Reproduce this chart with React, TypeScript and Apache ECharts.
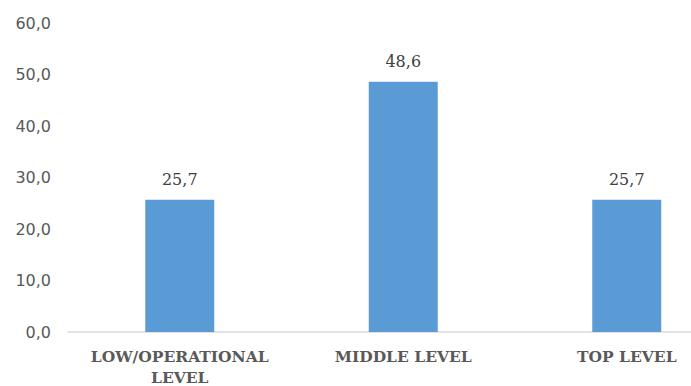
import React, { useEffect, useRef } from "react";
import * as echarts from "echarts";

const categories = ["LOW/OPERATIONAL\nLEVEL", "MIDDLE LEVEL", "TOP LEVEL"];
const values = [25.7, 48.6, 25.7];
const yMin = 0;
const yMax = 60;
const yInterval = 10;

const fmt = (v: number) => v.toFixed(1).replace(".", ",");

export default function App() {
  const ref = useRef<HTMLDivElement>(null);
  useEffect(() => {
    if (!ref.current) return;
    const chart = echarts.init(ref.current, undefined, { renderer: "svg" });
    chart.setOption({
      animation: false,
      backgroundColor: "#ffffff",
      grid: {
        left: 68,
        top: 23,
        width: 670.5,
        height: 309,
        containLabel: false,
        outerBoundsMode: "none",
      },
      xAxis: {
        type: "category",
        data: categories,
        axisLine: { lineStyle: { color: "#d9d9d9", width: 1.5 } },
        axisTick: { show: false },
        axisLabel: {
          interval: 0,
          hideOverlap: false,
          color: "#595959",
          fontFamily: "DejaVu Serif",
          fontWeight: "bold",
          fontSize: 15.5,
          lineHeight: 21,
          margin: 14,
        },
      },
      yAxis: {
        type: "value",
        min: yMin,
        max: yMax,
        interval: yInterval,
        splitLine: { show: false },
        axisLine: { show: false },
        axisTick: { show: false },
        axisLabel: {
          color: "#595959",
          fontFamily: "DejaVu Sans",
          fontSize: 16,
          margin: 17,
          formatter: (v: number) => fmt(v),
        },
      },
      series: [
        {
          type: "bar",
          data: values,
          barWidth: 69,
          itemStyle: { color: "#5b9bd5" },
          label: {
            show: true,
            position: "top",
            distance: 12,
            color: "#404040",
            fontFamily: "DejaVu Serif",
            fontSize: 16,
            formatter: (p: any) => fmt(p.value),
          },
        },
      ],
    });
    return () => chart.dispose();
  }, []);
  return <div ref={ref} style={{ width: 691, height: 386, position: "fixed", left: 0, top: 0 }} />;
}
